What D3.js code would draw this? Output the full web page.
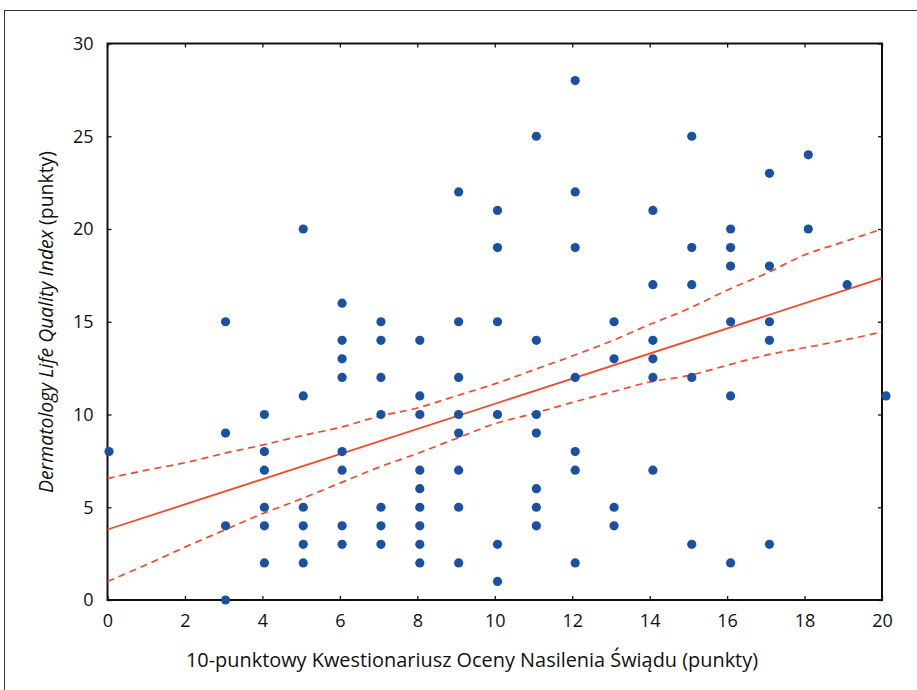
<!DOCTYPE html>
<html>
<head>
<meta charset="utf-8">
<script src="https://cdn.jsdelivr.net/npm/d3@7/dist/d3.min.js"></script>
<style>
  body { margin: 0; background: #fff; }
  svg { display: block; }
  text { font-family: "Open Sans", "Noto Sans", sans-serif; fill: #111; }
</style>
</head>
<body>
<svg id="chart" width="917" height="690"></svg>
<script>
// pruritus score (x) and DLQI score (y) per patient
const itchScore = [
  0,
  3, 3, 3, 3,
  4, 4, 4, 4, 4, 4,
  5, 5, 5, 5, 5, 5,
  6, 6, 6, 6, 6, 6, 6, 6,
  7, 7, 7, 7, 7, 7, 7,
  8, 8, 8, 8, 8, 8, 8, 8, 8,
  9, 9, 9, 9, 9, 9, 9, 9,
  10, 10, 10, 10, 10, 10,
  11, 11, 11, 11, 11, 11, 11,
  12, 12, 12, 12, 12, 12, 12,
  13, 13, 13, 13,
  14, 14, 14, 14, 14, 14,
  15, 15, 15, 15, 15,
  16, 16, 16, 16, 16, 16,
  17, 17, 17, 17, 17,
  18, 18,
  19,
  20
];
const dlqiScore = [
  8,
  15, 9, 4, 0,
  10, 8, 7, 5, 4, 2,
  20, 11, 5, 4, 3, 2,
  16, 14, 13, 12, 8, 7, 4, 3,
  15, 14, 12, 10, 5, 4, 3,
  14, 11, 10, 7, 6, 5, 4, 3, 2,
  22, 15, 12, 10, 9, 7, 5, 2,
  21, 19, 15, 10, 3, 1,
  25, 14, 10, 9, 6, 5, 4,
  28, 22, 19, 12, 8, 7, 2,
  15, 13, 5, 4,
  21, 17, 14, 13, 12, 7,
  25, 19, 17, 12, 3,
  20, 19, 18, 15, 11, 2,
  23, 18, 15, 14, 3,
  24, 20,
  17,
  11
];

// regression line and 95% confidence band
const fitX = [0, 20];
const fitY = [3.8, 17.35];
const bandX = [0, 1, 2, 3, 4, 5, 6, 7, 8, 9, 10, 11, 12, 13, 14, 15, 16, 17, 18, 19, 20];
const bandUpper = [6.55, 7.0, 7.4, 7.9, 8.35, 8.85, 9.3, 9.9, 10.35, 11.0, 11.65, 12.4, 13.15, 13.95, 14.85, 15.7, 16.7, 17.6, 18.6, 19.3, 20.0];
const bandLower = [1.0, 1.9, 2.85, 3.75, 4.65, 5.45, 6.3, 7.15, 7.9, 8.7, 9.5, 10.05, 10.65, 11.2, 11.75, 12.1, 12.65, 13.2, 13.6, 14.0, 14.45];

const xTicks = d3.range(0, 21, 2);
const yTicks = [0, 5, 10, 15, 20, 25, 30];

const xTitle = "10-punktowy Kwestionariusz Oceny Nasilenia Świądu (punkty)";

let svg = d3.select("#chart");

let plotLeft = 107.5, plotRight = 882, plotTop = 43.5, plotBottom = 600;

let xScale = d3.scaleLinear().domain([0, 20]).range([plotLeft, plotRight]);
let yScale = d3.scaleLinear().domain([0, 30]).range([plotBottom, plotTop]);
// the dots in the original sit a touch right of the tick marks
let xDotScale = d3.scaleLinear().domain([0, 20]).range([plotLeft + 1.5, plotRight + 4]);

// outer frame of the figure
svg.append("rect")
    .attr("x", 4.5).attr("y", 10.5)
    .attr("width", 940).attr("height", 700)
    .attr("fill", "none")
    .attr("stroke", "#333")
    .attr("stroke-width", 1);

// axes (ticks pointing inward on all four sides)
let axisBottom = d3.axisBottom(xScale).tickValues(xTicks).tickSizeInner(-4).tickSizeOuter(0).tickPadding(14);
let axisTop = d3.axisTop(xScale).tickValues(xTicks).tickSizeInner(-4).tickSizeOuter(0).tickFormat("");
let axisLeft = d3.axisLeft(yScale).tickValues(yTicks).tickSizeInner(-4).tickSizeOuter(0).tickPadding(14);
let axisRight = d3.axisRight(yScale).tickValues(yTicks).tickSizeInner(-4).tickSizeOuter(0).tickFormat("");

function styleAxis(g) {
    g.select(".domain").remove();
    g.selectAll("line").attr("stroke", "#111").attr("stroke-width", 1.3);
    g.selectAll("text").style("font-size", "18px").attr("fill", "#111");
}

svg.append("g").attr("transform", "translate(0," + plotBottom + ")").call(axisBottom).call(styleAxis);
svg.append("g").attr("transform", "translate(0," + plotTop + ")").call(axisTop).call(styleAxis);
svg.append("g").attr("transform", "translate(" + plotLeft + ",0)").call(axisLeft).call(styleAxis);
svg.append("g").attr("transform", "translate(" + plotRight + ",0)").call(axisRight).call(styleAxis);

svg.append("rect")
    .attr("x", plotLeft).attr("y", plotTop)
    .attr("width", plotRight - plotLeft).attr("height", plotBottom - plotTop)
    .attr("fill", "none")
    .attr("stroke", "#111")
    .attr("stroke-width", 2);

// confidence band
let bandLine = d3.line().curve(d3.curveMonotoneX);
let redColor = "#ef4b2c";

svg.append("path")
    .attr("d", bandLine(bandX.map((x, i) => [xScale(x), yScale(bandUpper[i])])))
    .attr("fill", "none").attr("stroke", redColor)
    .attr("stroke-width", 1.7).attr("stroke-dasharray", "7,5");

svg.append("path")
    .attr("d", bandLine(bandX.map((x, i) => [xScale(x), yScale(bandLower[i])])))
    .attr("fill", "none").attr("stroke", redColor)
    .attr("stroke-width", 1.7).attr("stroke-dasharray", "7,5");

// fitted line
svg.append("path")
    .attr("d", d3.line()(fitX.map((x, i) => [xScale(x), yScale(fitY[i])])))
    .attr("fill", "none").attr("stroke", redColor)
    .attr("stroke-width", 1.8);

// points
svg.append("g").selectAll("circle")
    .data(itchScore.map((x, i) => ({ x: x, y: dlqiScore[i] })))
    .enter()
    .append("circle")
    .attr("cx", d => xDotScale(d.x))
    .attr("cy", d => yScale(d.y))
    .attr("r", 4.6)
    .attr("fill", "#1a51a2");

// axis titles
svg.append("text")
    .attr("x", 472)
    .attr("y", 667)
    .attr("text-anchor", "middle")
    .style("font-size", "19.9px")
    .text(xTitle);

let yTitle = svg.append("text")
    .attr("transform", "translate(53,322) rotate(-90)")
    .attr("text-anchor", "middle")
    .style("font-size", "19.4px");
yTitle.append("tspan").style("font-style", "italic").text("Dermatology Life Quality Index");
yTitle.append("tspan").text(" (punkty)");
</script>
</body>
</html>
